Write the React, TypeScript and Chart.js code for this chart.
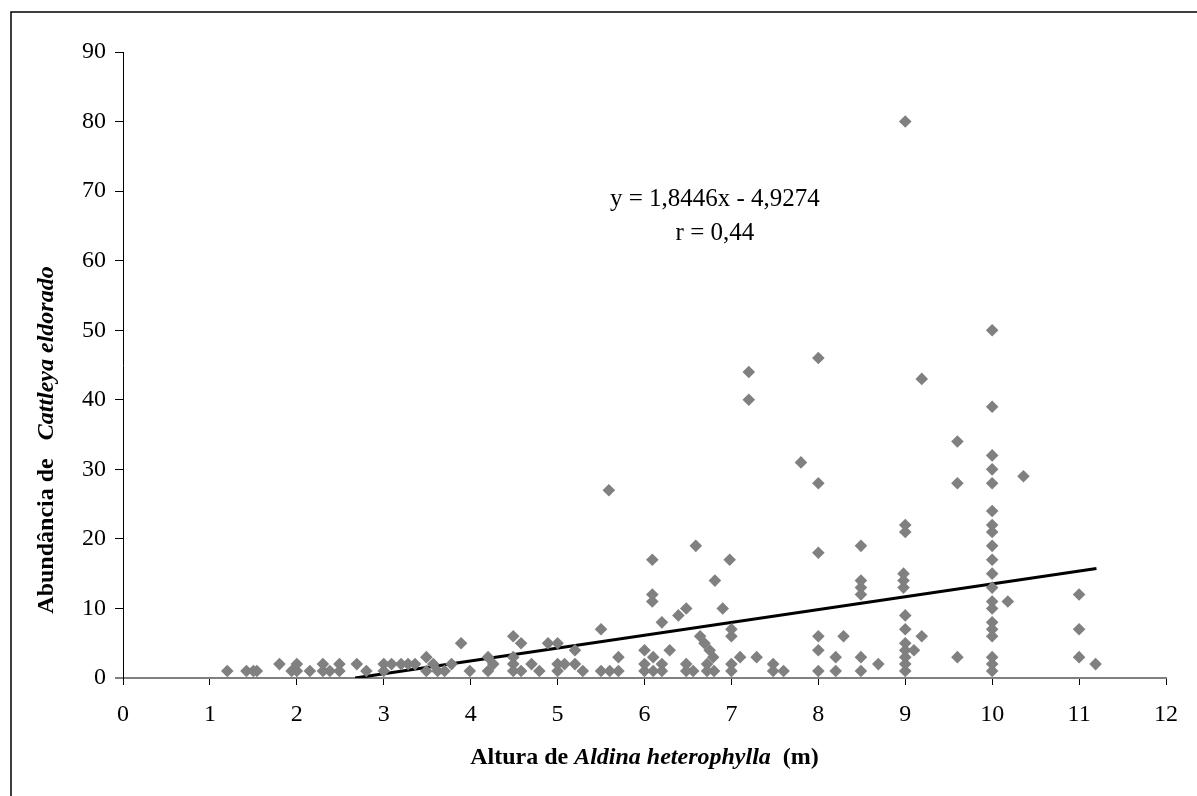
import React, { useEffect, useRef } from "react";
import { Chart, registerables } from "chart.js";

Chart.register(...registerables);

// Altura de Aldina heterophylla (m)
const heights: number[] = [
  1.2, 1.42, 1.5, 1.54, 1.8, 1.94, 2.0, 2.0, 2.15, 2.3, 2.3, 2.38, 2.49, 2.49, 2.69, 2.8, 3.0, 3.0, 3.09, 3.2,
  3.28, 3.36, 3.49, 3.49, 3.57, 3.62, 3.7, 3.78, 3.89, 3.99, 4.2, 4.2, 4.26,
  4.49, 4.58, 4.49, 4.49, 4.49, 4.58, 4.7, 4.79, 4.89, 5.0, 5.0, 5.0, 5.08, 5.2, 5.2, 5.29, 5.5, 5.5, 5.6,
  5.7, 5.7, 6.0, 6.0, 6.0, 6.1, 6.1, 6.09, 6.09, 6.2, 6.2, 6.2, 6.29, 6.39, 6.48, 6.48, 6.48, 6.56, 6.64,
  6.69, 6.75, 6.79, 6.72, 6.72, 6.8, 6.81, 6.9, 7.0, 7.0, 7.0, 7.0, 7.1, 7.29, 7.48, 7.48, 7.6,
  5.59, 6.09, 6.59, 6.98, 7.2, 7.2, 7.8, 8.0, 8.0, 8.0,
  8.0, 8.0, 8.0, 8.29, 8.2, 8.2, 8.49, 8.49, 8.49, 8.49, 8.49, 8.69, 8.98, 8.98, 8.98, 9.0, 9.0, 9.0, 9.0,
  9.0, 9.0, 9.0, 9.1, 9.19, 9.6, 10.0, 10.0, 10.0, 10.0, 10.0, 10.0, 10.0, 10.0, 10.0, 10.0, 10.0, 10.18,
  9.19, 10.0, 9.6, 10.0, 10.0, 10.0, 9.6, 10.0, 10.0, 10.0, 10.0, 9.0, 9.0, 8.49,
  10.36, 11.0, 11.0, 11.0, 11.19,
  9.0, 10.0,
];

// Abundância de Cattleya eldorado
const abundances: number[] = [
  1, 1, 1, 1, 2, 1, 2, 1, 1, 2, 1, 1, 2, 1, 2, 1, 2, 1, 2, 2,
  2, 2, 3, 1, 2, 1, 1, 2, 5, 1, 3, 1, 2,
  6, 5, 3, 2, 1, 1, 2, 1, 5, 5, 2, 1, 2, 4, 2, 1, 7, 1, 1,
  3, 1, 4, 2, 1, 3, 1, 12, 11, 8, 2, 1, 4, 9, 10, 2, 1, 1, 6,
  5, 4, 3, 2, 1, 1, 14, 10, 7, 6, 2, 1, 3, 3, 2, 1, 1,
  27, 17, 19, 17, 44, 40, 31, 46, 28, 18,
  6, 4, 1, 6, 3, 1, 14, 13, 12, 3, 1, 2, 15, 14, 13, 9, 7, 5, 4,
  3, 2, 1, 4, 6, 3, 17, 15, 13, 11, 10, 8, 7, 6, 3, 2, 1, 11,
  43, 39, 34, 32, 30, 28, 28, 24, 22, 21, 19, 22, 21, 19,
  29, 12, 7, 3, 2,
  80, 50,
];

const slope = 1.8446;
const intercept = -4.9274;
const equationText = "y = 1,8446x - 4,9274";
const rText = "r = 0,44";
const xTicksMax = 12;
const yTicksMax = 90;

const FONT = "'Liberation Serif', 'Times New Roman', serif";

export default function App() {
  const ref = useRef<HTMLCanvasElement | null>(null);

  useEffect(() => {
    if (!ref.current) return;
    const points = heights.map((h, i) => ({ x: h, y: abundances[i] }));
    const xStart = -intercept / slope;
    const xEnd = 11.2;
    const trend = [
      { x: xStart, y: slope * xStart + intercept },
      { x: xEnd, y: slope * xEnd + intercept },
    ];

    const decor = {
      id: "decor",
      afterDraw(chart: any) {
        const { ctx, chartArea, scales } = chart;
        ctx.save();
        // frame
        ctx.strokeStyle = "#000";
        ctx.lineWidth = 1.5;
        ctx.beginPath();
        ctx.moveTo(11, 796);
        ctx.lineTo(11, 12);
        ctx.lineTo(1197, 12);
        ctx.stroke();
        // extension of x axis to the left
        ctx.strokeStyle = "#808080";
        ctx.lineWidth = 2;
        ctx.beginPath();
        ctx.moveTo(chartArea.left - 8, chartArea.bottom);
        ctx.lineTo(chartArea.left, chartArea.bottom);
        ctx.stroke();
        // equation
        ctx.fillStyle = "#000";
        ctx.font = `25px ${FONT}`;
        ctx.textAlign = "center";
        ctx.textBaseline = "middle";
        const ex = scales.x.getPixelForValue(6.81);
        ctx.fillText(equationText, ex, scales.y.getPixelForValue(68.8));
        ctx.fillText(rText, ex, scales.y.getPixelForValue(63.9));

        const drawParts = (parts: { t: string; f: string }[], cx: number, cy: number) => {
          let total = 0;
          for (const p of parts) {
            ctx.font = p.f;
            total += ctx.measureText(p.t).width;
          }
          let x = cx - total / 2;
          ctx.textAlign = "left";
          for (const p of parts) {
            ctx.font = p.f;
            ctx.fillText(p.t, x, cy);
            x += ctx.measureText(p.t).width;
          }
        };
        const b = `bold 24px ${FONT}`;
        const bi = `italic bold 24px ${FONT}`;
        const cxPlot = (chartArea.left + chartArea.right) / 2;
        drawParts(
          [
            { t: "Altura de ", f: b },
            { t: "Aldina heterophylla", f: bi },
            { t: "  (m)", f: b },
          ],
          cxPlot,
          758
        );
        ctx.save();
        ctx.translate(47, 440);
        ctx.rotate(-Math.PI / 2);
        drawParts(
          [
            { t: "Abundância de   ", f: b },
            { t: "Cattleya eldorado", f: bi },
          ],
          0,
          0
        );
        ctx.restore();
        ctx.restore();
      },
    };

    const chart = new Chart(ref.current, {
      type: "scatter",
      data: {
        datasets: [
          {
            type: "scatter",
            data: points,
            pointStyle: "rectRot",
            pointRadius: 6.3,
            pointBackgroundColor: "#808080",
            pointBorderWidth: 0,
            borderWidth: 0,
          } as any,
          {
            type: "line",
            data: trend,
            borderColor: "#000",
            borderWidth: 3,
            pointRadius: 0,
            fill: false,
          } as any,
        ],
      },
      options: {
        responsive: false,
        animation: false,
        layout: { padding: { top: 52, right: 31, left: 0, bottom: 0 } },
        plugins: { legend: { display: false }, tooltip: { enabled: false } },
        scales: {
          x: {
            type: "linear",
            min: 0,
            max: xTicksMax,
            afterFit: (s: any) => {
              s.height = 118;
            },
            ticks: { stepSize: 1, color: "#000", font: { family: FONT, size: 24 }, padding: 15, maxRotation: 0 },
            grid: { drawOnChartArea: false, drawTicks: true, tickLength: 7, color: "#000" },
            border: { color: "#808080", width: 2 },
          },
          y: {
            type: "linear",
            min: 0,
            max: yTicksMax,
            afterFit: (s: any) => {
              s.width = 123;
            },
            ticks: { stepSize: 10, color: "#000", font: { family: FONT, size: 24 }, padding: 9 },
            grid: { drawOnChartArea: false, drawTicks: true, tickLength: 8, color: "#000" },
            border: { color: "#000", width: 1 },
          },
        },
      },
      plugins: [decor],
    });
    return () => chart.destroy();
  }, []);

  return (
    <div style={{ position: "fixed", left: 0, top: 0, width: 1197, height: 796, background: "#fff" }}>
      <canvas ref={ref} width={1197} height={796} style={{ display: "block" }} />
    </div>
  );
}
